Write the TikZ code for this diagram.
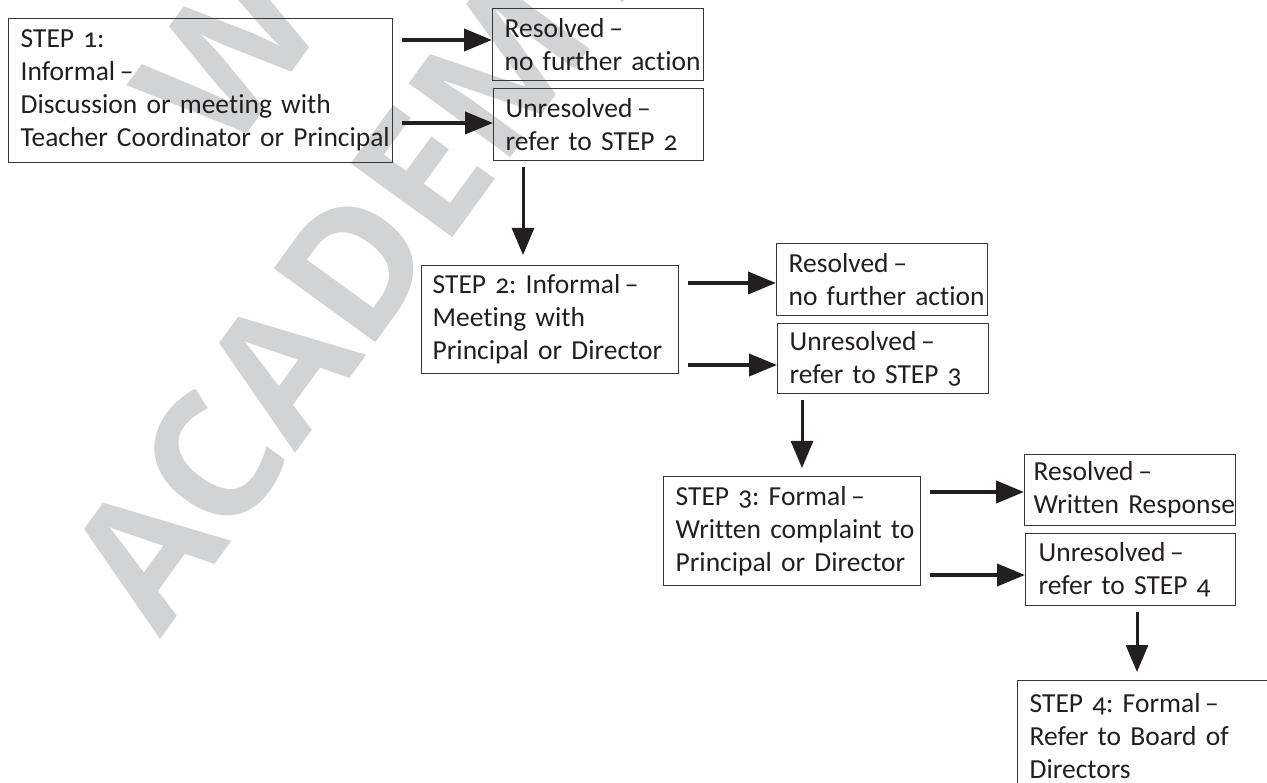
\documentclass[tikz,border=0pt]{standalone}
\usepackage{fontspec}
\setmainfont{Carlito}[Numbers=OldStyle, Ligatures=NoCommon]
\newfontfamily\wmfont{Open Sans}
\usetikzlibrary{arrows.meta,calc}
\definecolor{ink}{RGB}{35,31,32}
\definecolor{wmgray}{RGB}{209,211,212}
\definecolor{frame}{RGB}{55,55,55}
\newcommand\sdash{\hspace{0.17em}–}
\frenchspacing
\tikzset{
  box/.style={draw=frame, line width=1.3pt, anchor=north west, inner xsep=12pt,
    inner ysep=0pt, align=left, text=ink, font=\fontsize{27.5}{33}\selectfont},
  harrow/.style={draw=ink, line width=4pt, -{Triangle[length=28pt,width=22pt]}},
  varrow/.style={draw=ink, line width=3pt, -{Triangle[length=27pt,width=22pt]}},
  wm/.style={text=wmgray, inner sep=0pt, rotate=54, anchor=base west,
    font=\wmfont\bfseries\fontsize{176}{200}\selectfont},
}
\begin{document}
\begin{tikzpicture}[x=1pt,y=-1pt]
\useasboundingbox (0,0) rectangle (1267,783);
% watermark
\node[wm] (wm1) at (228,160) {W};
\node[wm] (wm2) at (160,640) {ACADEMY};
% boxes
\node[box, text width=360pt, minimum height=144pt] (b1) at (8,18)
  {\mbox{STEP 1:}\\\mbox{Informal\sdash}\\\mbox{Discussion or meeting with}\\\mbox{Teacher Coordinator or Principal}};
\node[box, text width=187pt, minimum height=72pt] (r1) at (492,8)
  {\mbox{Resolved\sdash}\\\mbox{no further action}};
\node[box, text width=186pt, minimum height=72pt] (u1) at (493,88)
  {\mbox{Unresolved\sdash}\\\mbox{refer to STEP 2}};
\node[box, text width=235pt, minimum height=108pt, inner xsep=11pt] (b2) at (421,265)
  {\mbox{STEP 2: Informal\sdash}\\\mbox{Meeting with}\\\mbox{Principal or Director}};
\node[box, text width=187pt, minimum height=72pt] (r2) at (776,243)
  {\mbox{Resolved\sdash}\\\mbox{no further action}};
\node[box, text width=187pt, minimum height=70pt] (u2) at (777,323)
  {\mbox{Unresolved\sdash}\\\mbox{refer to STEP 3}};
\node[box, text width=233pt, minimum height=109pt] (b3) at (663,476)
  {\mbox{STEP 3: Formal\sdash}\\\mbox{Written complaint to}\\\mbox{Principal or Director}};
\node[box, text width=193pt, minimum height=71pt, inner xsep=9pt] (r3) at (1024,454)
  {\mbox{Resolved\sdash}\\\mbox{Written Response}};
\node[box, text width=184pt, minimum height=72pt, inner xsep=13pt] (u3) at (1025,533)
  {\mbox{Unresolved\sdash}\\\mbox{refer to STEP 4}};
\node[box, text width=249pt, minimum height=110pt] (b4) at (1017,680)
  {\mbox{STEP 4: Formal\sdash}\\\mbox{Refer to Board of}\\\mbox{Directors}};
% horizontal arrows
\coordinate (h1a) at (402,40);
\coordinate (h1b) at (402,123);
\draw[harrow] (h1a) -- (h1a -| r1.west);
\draw[harrow] (h1b) -- (h1b -| u1.west);
\coordinate (h2a) at (688,283);
\coordinate (h2b) at (688,365);
\draw[harrow] (h2a) -- (h2a -| r2.west);
\draw[harrow] (h2b) -- (h2b -| u2.west);
\coordinate (h3a) at (930,492);
\coordinate (h3b) at (930,575);
\draw[harrow] (h3a) -- (h3a -| r3.west);
\draw[harrow] (h3b) -- (h3b -| u3.west);
% vertical arrows
\coordinate (v1) at (523,167);
\coordinate (v2) at (802,400);
\coordinate (v3) at (1137,612);
\draw[varrow, shorten >=10pt] (v1) -- (v1 |- b2.north);
\draw[varrow, shorten >=8pt] (v2) -- (v2 |- b3.north);
\draw[varrow, shorten >=8pt] (v3) -- (v3 |- b4.north);
\end{tikzpicture}
\end{document}
